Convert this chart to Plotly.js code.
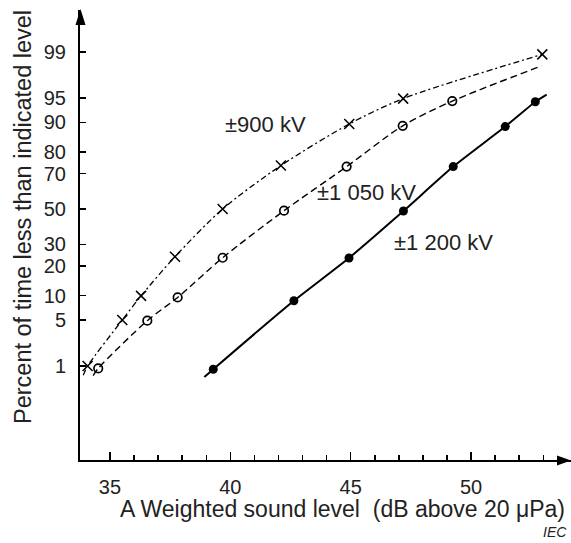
<!DOCTYPE html>
<html>
<head>
<meta charset="utf-8">
<script src="https://cdn.plot.ly/plotly-3.0.1.min.js"></script>
<style>html,body{margin:0;padding:0;background:#fff;}#chart{width:571px;height:543px;}</style>
</head>
<body>
<div id="chart"></div>
<script>
// ---- data (percent of time vs A-weighted sound level, dB) ----
const kv900_x = [34.07, 35.51, 36.29, 37.70, 39.68, 42.10, 44.94, 47.18, 52.96];
const kv900_p = [1.0, 5.0, 9.9, 24, 50, 74, 89.6, 94.9, 98.9];
const curve900_x = [33.89, 34.07, 35.51, 36.29, 37.70, 39.68, 42.10, 44.94, 47.18, 52.96];
const curve900_p = [0.69, 1.0, 5.0, 9.9, 24, 50, 74, 89.6, 94.9, 98.9];

const kv1050_x = [34.51, 36.55, 37.81, 39.68, 42.23, 44.83, 47.16, 49.22];
const kv1050_p = [0.91, 4.9, 9.5, 23.5, 49, 73.5, 89.1, 94.5];
const curve1050_x = [34.30, 34.51, 36.55, 37.81, 39.68, 42.23, 44.83, 47.16, 49.22, 52.93];
const curve1050_p = [0.68, 0.91, 4.9, 9.5, 23.5, 49, 73.5, 89.1, 94.5, 98.3];

const kv1200_x = [39.29, 42.64, 44.93, 47.19, 49.26, 51.42, 52.67];
const kv1200_p = [0.88, 8.7, 23.4, 48.8, 73.5, 88.9, 94.4];
const curve1200_x = [38.92, 39.29, 42.64, 44.93, 47.19, 49.26, 51.42, 52.67, 53.14];
const curve1200_p = [0.64, 0.88, 8.7, 23.4, 48.8, 73.5, 88.9, 94.4, 95.5];

const yTickPercents = [1, 5, 10, 20, 30, 50, 70, 80, 90, 95, 99];
const yTickLabels = ['1', '5', '10', '20', '30', '50', '70', '80', '90', '95', '99'];
const xMajorTicks = [35, 40, 45, 50];
const xMinorTicks = [36, 37, 38, 39, 41, 42, 43, 44, 46, 47, 48, 49, 51, 52, 53];

const seriesLabels = ['±900 kV', '±1 050 kV', '±1 200 kV'];

// ---- normal probability scale (inverse normal CDF) ----
function probit(pct) {
  const p = pct / 100;
  const a = [-3.969683028665376e+01, 2.209460984245205e+02, -2.759285104469687e+02, 1.383577518672690e+02, -3.066479806614716e+01, 2.506628277459239e+00];
  const b = [-5.447609879822406e+01, 1.615858368580409e+02, -1.556989798598866e+02, 6.680131188771972e+01, -1.328068155288572e+01];
  const c = [-7.784894002430293e-03, -3.223964580411365e-01, -2.400758277161838e+00, -2.549732539343734e+00, 4.374664141464968e+00, 2.938163982698783e+00];
  const d = [7.784695709041462e-03, 3.224671290700398e-01, 2.445134137142996e+00, 3.754408661907416e+00];
  const pl = 0.02425, ph = 1 - pl;
  let q, r;
  if (p < pl) {
    q = Math.sqrt(-2 * Math.log(p));
    return (((((c[0]*q+c[1])*q+c[2])*q+c[3])*q+c[4])*q+c[5]) / ((((d[0]*q+d[1])*q+d[2])*q+d[3])*q+1);
  } else if (p <= ph) {
    q = p - 0.5; r = q*q;
    return (((((a[0]*r+a[1])*r+a[2])*r+a[3])*r+a[4])*r+a[5])*q / (((((b[0]*r+b[1])*r+b[2])*r+b[3])*r+b[4])*r+1);
  } else {
    q = Math.sqrt(-2 * Math.log(1 - p));
    return -(((((c[0]*q+c[1])*q+c[2])*q+c[3])*q+c[4])*q+c[5]) / ((((d[0]*q+d[1])*q+d[2])*q+d[3])*q+1);
  }
}
const Z = arr => arr.map(probit);

// ---- layout geometry helpers (pixel -> paper) ----
const W = 571, H = 543, ML = 80, MR = 0, MT = 10, MB = 83;
const PW = W - ML - MR, PH = H - MT - MB;
const px = v => (v - ML) / PW;
const py = v => (H - MB - v) / PH;

const FONT = 'Liberation Sans, Arial, sans-serif';
const TXT = '#222';

const traces = [
  {x: curve900_x, y: Z(curve900_p), mode: 'lines', line: {color: '#000', width: 1.3, dash: '6px,3px,2px,3px', shape: 'spline', smoothing: 0.8}},
  {x: curve1050_x, y: Z(curve1050_p), mode: 'lines', line: {color: '#000', width: 1.4, dash: '7px,4px', shape: 'spline', smoothing: 0.8}},
  {x: curve1200_x, y: Z(curve1200_p), mode: 'lines', line: {color: '#000', width: 2, shape: 'spline', smoothing: 0.5}},
  {x: kv900_x, y: Z(kv900_p), mode: 'markers', marker: {symbol: 'x-thin-open', size: 10, color: '#000', line: {color: '#000', width: 1.5}}},
  {x: kv1050_x, y: Z(kv1050_p), mode: 'markers', marker: {symbol: 'circle-open', size: 8.5, color: '#000', line: {color: '#000', width: 1.7}}},
  {x: kv1200_x, y: Z(kv1200_p), mode: 'markers', marker: {symbol: 'circle', size: 9, color: '#000'}}
];

const layout = {
  width: W, height: H,
  margin: {l: ML, r: MR, t: MT, b: MB, pad: 0},
  paper_bgcolor: '#fff', plot_bgcolor: '#fff',
  showlegend: false, hovermode: false,
  font: {family: FONT, color: TXT},
  xaxis: {
    range: [33.754, 54.152], showgrid: false, zeroline: false,
    showline: true, linecolor: '#000', linewidth: 2,
    ticks: 'inside', ticklen: 8, tickwidth: 1.5, tickcolor: '#000',
    tickmode: 'array', tickvals: xMajorTicks, ticktext: xMajorTicks.map(String),
    tickfont: {size: 20, color: TXT, family: FONT}, ticklabelstandoff: 8,
    minor: {tickmode: 'array', tickvals: xMinorTicks, ticks: 'inside', ticklen: 5, tickwidth: 1.5, tickcolor: '#000', showgrid: false}
  },
  yaxis: {
    range: [-3.7185, 2.948], showgrid: false, zeroline: false,
    showline: true, linecolor: '#000', linewidth: 2,
    ticks: 'inside', ticklen: 6, tickwidth: 1.5, tickcolor: '#000',
    tickmode: 'array', tickvals: Z(yTickPercents), ticktext: yTickLabels,
    tickfont: {size: 20, color: TXT, family: FONT}, ticklabelstandoff: 8
  },
  shapes: [
    {type: 'path', xref: 'paper', yref: 'paper', fillcolor: '#000', line: {width: 0},
     path: `M ${px(80.5)} ${py(9)} L ${px(75.5)} ${py(25)} L ${px(85.5)} ${py(25)} Z`},
    {type: 'path', xref: 'paper', yref: 'paper', fillcolor: '#000', line: {width: 0},
     path: `M ${px(571)} ${py(460.5)} L ${px(557)} ${py(455.5)} L ${px(557)} ${py(465.5)} Z`}
  ],
  annotations: [
    {xref: 'paper', yref: 'paper', x: px(265), y: py(125), text: seriesLabels[0], showarrow: false, font: {size: 22, color: TXT}, xanchor: 'center', yanchor: 'middle'},
    {xref: 'paper', yref: 'paper', x: px(366), y: py(193), text: seriesLabels[1], showarrow: false, font: {size: 22, color: TXT}, xanchor: 'center', yanchor: 'middle'},
    {xref: 'paper', yref: 'paper', x: px(443), y: py(242), text: seriesLabels[2], showarrow: false, font: {size: 22, color: TXT}, xanchor: 'center', yanchor: 'middle'},
    {xref: 'paper', yref: 'paper', x: px(342), y: py(509), text: 'A Weighted sound level  (dB above 20 μPa)', showarrow: false, font: {size: 23, color: TXT}, xanchor: 'center', yanchor: 'middle'},
    {xref: 'paper', yref: 'paper', x: px(23), y: py(217), text: 'Percent of time less than indicated level', textangle: -90, showarrow: false, font: {size: 23.5, color: TXT}, xanchor: 'center', yanchor: 'middle'},
    {xref: 'paper', yref: 'paper', x: px(569), y: py(532), text: '<i>IEC</i>', showarrow: false, font: {size: 14, color: TXT}, xanchor: 'right', yanchor: 'middle'}
  ]
};

Plotly.newPlot('chart', traces, layout, {displayModeBar: false, staticPlot: true});
</script>
</body>
</html>
